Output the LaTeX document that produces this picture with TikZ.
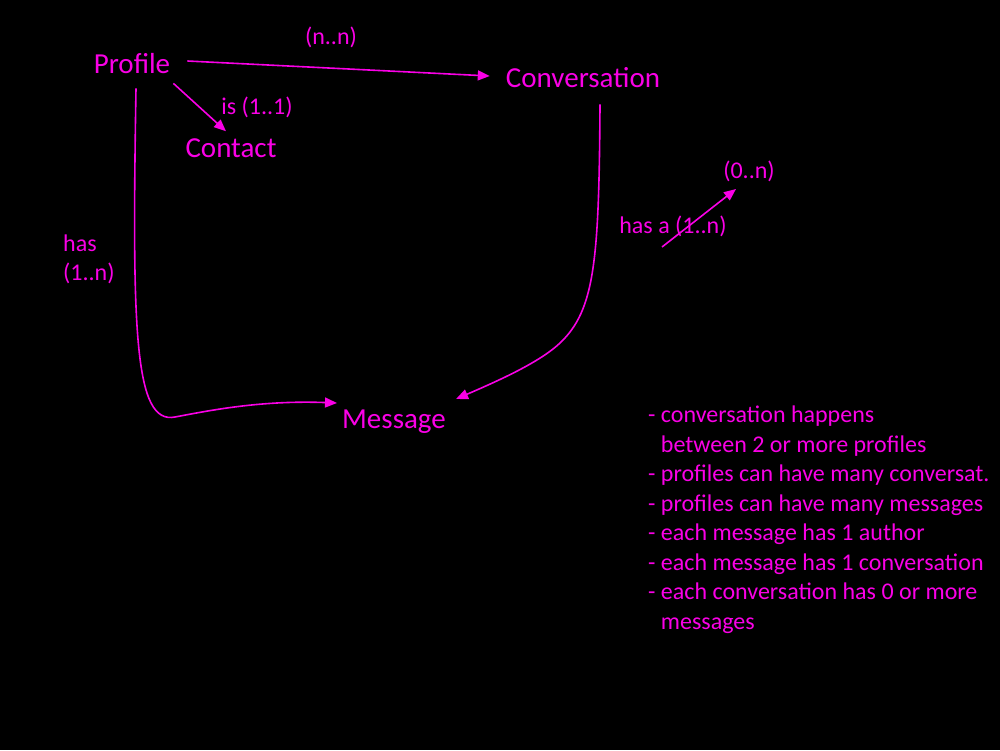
\documentclass[tikz,border=0pt]{standalone}
\usepackage{fontspec}
\setmainfont{Carlito}
\usetikzlibrary{arrows.meta,calc}
\definecolor{pinkline}{RGB}{250,0,230}

\begin{document}
\begin{tikzpicture}[
    x=1pt, y=-1pt,
    ent/.style={text=pinkline, inner sep=8pt, font=\fontsize{29}{34}\selectfont},
    card/.style={text=pinkline, inner sep=0pt, font=\fontsize{24}{29}\selectfont},
    arr/.style={-{Triangle[length=12pt,width=10pt]}, draw=pinkline, line width=1.6pt}
]
\fill[black] (0,0) rectangle (1000,750);
\useasboundingbox (0,0) rectangle (1000,750);

% entities
\node[ent] (prof) at (132,64) {Profile};
\node[ent] (conv) at (583,78) {Conversation};
\node[ent] (cont) at (231,148) {Contact};
\node[ent] (msg) at (394,422) {Message};

% cardinalities
\node[card] (nn) at (331,37) {(n..n)};
\node[card] (is) at (257,107) {is (1..1)};
\node[card, anchor=north west, align=left] (has) at (63,235) {has\\(1..n)};
\node[card] (hasa) at (673,226) {has a (1..n)};
\node[card] (zeron) at (749,171) {(0..n)};
\coordinate (hasastart) at (662,247);

% relations
\draw[arr] ([shift={(9,-3)}]prof.east) -- ([shift={(-8,-2)}]conv.west);
\draw[arr] ([shift={(-5,1)}]prof.south east) -- ([shift={(-5,1)}]cont.north);
\draw[arr] (hasastart) -- ([shift={(-13,18)}]zeron.center);
\draw[arr] ([shift={(4,6)}]prof.south) .. controls (132,330) and (134,425) .. (175,417)
    .. controls (207,411) and (260,400) .. ([shift={(3,1)}]msg.north west);
\draw[arr] ([shift={(17,8)}]conv.south) .. controls (599,260) and (595,310) .. (560,343)
    .. controls (540,362) and (500,380) .. ([shift={(2,-3)}]msg.north east);

% notes
\node[card, anchor=north west, align=left, font=\fontsize{24}{29.5}\selectfont] (notes) at (648,406) {%
- conversation happens\\
\phantom{- }between 2 or more profiles\\
- profiles can have many conversat.\\
- profiles can have many messages\\
- each message has 1 author\\
- each message has 1 conversation\\
- each conversation has 0 or more\\
\phantom{- }messages};
\end{tikzpicture}
\end{document}
